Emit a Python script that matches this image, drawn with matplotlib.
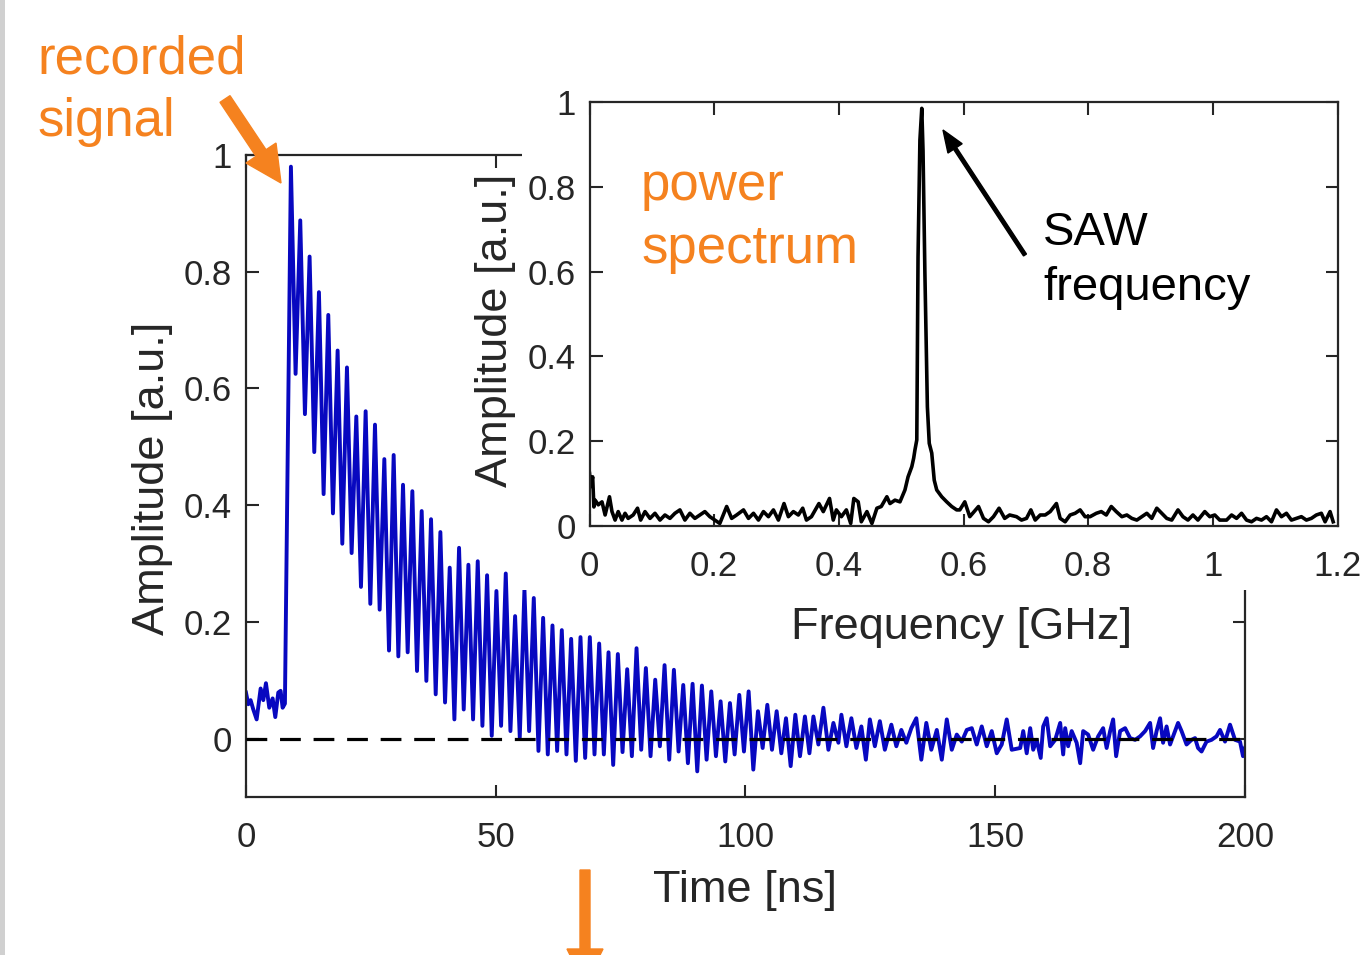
import matplotlib.pyplot as plt
import numpy as np
from matplotlib.patches import FancyArrow, Rectangle

plt.rcParams['font.family'] = ['Liberation Sans', 'DejaVu Sans']

# ---- recorded signal (time in ns, amplitude in a.u.) ----
# noise before the SAW arrives
t_pre = [0.0, 0.47, 0.93, 1.47, 2.14, 2.94, 3.47, 4.0, 4.67, 5.34, 5.87, 6.47, 6.94, 7.34, 7.8]
y_pre = [0.079, 0.059, 0.066, 0.050, 0.033, 0.086, 0.066, 0.095, 0.053, 0.069, 0.037, 0.079,
         0.082, 0.053, 0.060]

# oscillating part: maxima and the minimum that follows each one
t_first_peak = 9.0
period = 1.87
peak_vals = [0.980, 0.888, 0.826, 0.765, 0.726, 0.665, 0.636, 0.552, 0.561, 0.538,
             0.479, 0.486, 0.435, 0.424, 0.390, 0.376, 0.354, 0.293, 0.327, 0.298,
             0.304, 0.280, 0.253, 0.283, 0.210, 0.256, 0.241, 0.207, 0.194, 0.186,
             0.171, 0.174, 0.174, 0.163, 0.148, 0.145, 0.119, 0.155, 0.121, 0.101,
             0.126, 0.118, 0.092, 0.094, 0.091, 0.081, 0.064, 0.061, 0.075, 0.081,
             0.047, 0.058, 0.047, 0.035, 0.041]
trough_vals = [0.625, 0.556, 0.491, 0.419, 0.386, 0.334, 0.318, 0.260, 0.231, 0.221,
               0.151, 0.141, 0.148, 0.116, 0.099, 0.076, 0.062, 0.033, 0.050, 0.033,
               0.022, 0.005, 0.022, 0.013, 0.002, 0.013, -0.021, -0.027, -0.021, -0.027,
               -0.038, -0.033, -0.027, -0.027, -0.045, -0.023, -0.030, -0.019, -0.030, -0.013,
               -0.036, -0.022, -0.042, -0.056, -0.036, -0.030, -0.039, -0.027, -0.022, -0.053,
               -0.016, -0.019, -0.025, -0.047, -0.030]

# noisy tail
t_noise = [111.9, 112.8, 113.6, 114.6, 115.6, 116.6, 117.6, 118.6, 119.2, 120.2,
           121.2, 122.2, 123.2, 124.1, 124.9, 125.9, 126.9, 127.9, 129.2, 130.2,
           131.2, 132.2, 133.2, 134.2, 135.2, 136.2, 137.2, 138.3, 139.3, 140.3,
           141.3, 142.3, 143.3, 144.3, 145.3, 146.3, 147.3, 148.3, 149.3, 150.3,
           151.3, 152.3, 153.3, 155.0, 155.6, 156.3, 157.0, 157.6, 158.3, 159.1,
           159.6, 160.3, 161.0, 162.0, 163.0, 163.6, 164.0, 164.6, 165.3, 166.3,
           167.0, 167.6, 168.6, 169.6, 170.6, 171.6, 172.3, 173.0, 173.6, 174.2,
           175.0, 176.0, 177.0, 178.0, 179.0, 180.0, 181.0, 181.6, 182.3, 183.0,
           183.6, 184.3, 185.0, 185.6, 186.6, 187.3, 188.3, 189.3, 190.0, 190.6,
           191.3, 192.3, 193.3, 194.3, 195.0, 196.0, 197.0, 198.0, 199.0, 199.6, 200.0]
y_noise = [0.038, -0.025, 0.038, -0.010, 0.053, -0.019, 0.027, -0.007, 0.041, -0.013,
           0.035, -0.016, 0.021, -0.036, 0.033, -0.013, 0.030, -0.019, 0.024, -0.013,
           0.015, -0.007, 0.018, 0.035, -0.036, 0.027, -0.019, 0.015, -0.036, 0.033,
           -0.019, 0.007, -0.005, 0.015, 0.018, -0.010, 0.021, -0.013, 0.013, -0.025,
           -0.010, 0.033, -0.019, -0.016, 0.013, -0.025, 0.018, -0.019, -0.002, -0.033,
           0.021, 0.035, -0.013, -0.002, 0.027, -0.027, 0.018, -0.013, 0.013, -0.007,
           -0.042, 0.013, 0.007, -0.019, 0.004, 0.018, -0.016, 0.013, 0.033, -0.030,
           0.013, 0.018, 0.001, -0.002, 0.004, 0.013, 0.027, -0.016, 0.013, 0.035,
           -0.007, 0.021, -0.010, 0.004, 0.027, 0.013, -0.010, -0.002, 0.001, -0.016,
           -0.022, -0.005, -0.002, 0.004, 0.015, -0.005, 0.024, -0.002, -0.005, -0.030, -0.016]

# ---- power spectrum (GHz, a.u.) ----
freq = [0.000, 0.002, 0.005, 0.007, 0.009, 0.014, 0.020, 0.025, 0.032, 0.036,
        0.041, 0.046, 0.052, 0.057, 0.062, 0.070, 0.077, 0.082, 0.089, 0.097,
        0.105, 0.113, 0.121, 0.129, 0.137, 0.145, 0.153, 0.161, 0.169, 0.177,
        0.185, 0.193, 0.201, 0.209, 0.220, 0.228, 0.236, 0.247, 0.255, 0.263,
        0.271, 0.279, 0.287, 0.295, 0.303, 0.312, 0.319, 0.327, 0.335, 0.342,
        0.348, 0.356, 0.368, 0.375, 0.385, 0.391, 0.396, 0.404, 0.412, 0.419,
        0.424, 0.431, 0.436, 0.445, 0.453, 0.461, 0.468, 0.477, 0.482, 0.490,
        0.498, 0.506, 0.511, 0.517, 0.520, 0.522, 0.525, 0.527, 0.530, 0.533,
        0.535, 0.538, 0.542, 0.545, 0.549, 0.553, 0.557, 0.565, 0.573, 0.581,
        0.589, 0.594, 0.602, 0.610, 0.624, 0.632, 0.640, 0.648, 0.657, 0.666,
        0.674, 0.685, 0.693, 0.701, 0.708, 0.715, 0.723, 0.731, 0.739, 0.749,
        0.755, 0.763, 0.771, 0.779, 0.787, 0.795, 0.803, 0.813, 0.821, 0.829,
        0.837, 0.845, 0.854, 0.862, 0.870, 0.878, 0.886, 0.894, 0.902, 0.910,
        0.918, 0.926, 0.934, 0.944, 0.952, 0.960, 0.968, 0.976, 0.987, 0.995,
        1.003, 1.011, 1.022, 1.030, 1.038, 1.046, 1.054, 1.062, 1.070, 1.078,
        1.086, 1.094, 1.102, 1.110, 1.118, 1.126, 1.134, 1.142, 1.150, 1.158,
        1.166, 1.174, 1.180, 1.188, 1.193]
power = [0.124, 0.093, 0.116, 0.045, 0.061, 0.050, 0.057, 0.026, 0.069, 0.034,
         0.014, 0.034, 0.014, 0.030, 0.018, 0.026, 0.042, 0.014, 0.034, 0.018,
         0.030, 0.014, 0.026, 0.018, 0.030, 0.038, 0.014, 0.030, 0.018, 0.026,
         0.034, 0.022, 0.014, 0.006, 0.046, 0.018, 0.026, 0.038, 0.018, 0.030,
         0.014, 0.034, 0.022, 0.038, 0.014, 0.053, 0.022, 0.034, 0.026, 0.042,
         0.014, 0.022, 0.053, 0.034, 0.065, 0.014, 0.038, 0.022, 0.038, 0.006,
         0.065, 0.057, 0.010, 0.034, 0.006, 0.042, 0.046, 0.069, 0.053, 0.061,
         0.057, 0.085, 0.116, 0.140, 0.160, 0.179, 0.203, 0.634, 0.910, 0.985,
         0.885, 0.597, 0.281, 0.195, 0.172, 0.108, 0.085, 0.069, 0.057, 0.046,
         0.038, 0.038, 0.057, 0.022, 0.046, 0.018, 0.010, 0.022, 0.042, 0.018,
         0.026, 0.022, 0.014, 0.018, 0.038, 0.014, 0.026, 0.026, 0.034, 0.053,
         0.018, 0.010, 0.026, 0.030, 0.038, 0.022, 0.022, 0.030, 0.034, 0.026,
         0.046, 0.034, 0.022, 0.026, 0.018, 0.014, 0.022, 0.030, 0.018, 0.042,
         0.030, 0.018, 0.014, 0.038, 0.022, 0.014, 0.026, 0.014, 0.034, 0.022,
         0.026, 0.014, 0.014, 0.026, 0.018, 0.030, 0.014, 0.010, 0.018, 0.014,
         0.022, 0.010, 0.038, 0.022, 0.030, 0.014, 0.018, 0.022, 0.014, 0.018,
         0.026, 0.030, 0.010, 0.034, 0.010]

orange = '#f5821f'
blue = '#0808c0'
dark = '#262626'

# build the signal from the read extrema
t_peaks = t_first_peak + period * np.arange(len(peak_vals))
t_osc = np.column_stack([t_peaks, t_peaks + period / 2]).ravel()
y_osc = np.column_stack([peak_vals, trough_vals]).ravel()
t_sig = np.concatenate([t_pre, t_osc, t_noise])
y_sig = np.concatenate([y_pre, y_osc, y_noise])

fig = plt.figure(figsize=(13.71, 9.55), dpi=100)

# main plot
ax = fig.add_axes([0.1794, 0.1654, 0.7287, 0.6723])
ax.plot(t_sig, y_sig, color=blue, lw=2.8, zorder=2, solid_joinstyle='round')
ax.axhline(0, color='black', lw=2.3, dashes=(6.5, 4), zorder=3)
ax.set_xlim(0, 200)
ax.set_ylim(-0.1, 1)
ax.set_xticks([0, 50, 100, 150, 200])
ax.set_yticks([0, 0.2, 0.4, 0.6, 0.8, 1])
ax.set_yticklabels(['0', '0.2', '0.4', '0.6', '0.8', '1'])
ax.tick_params(direction='in', top=True, right=True, length=9, width=1.5,
               labelsize=25, colors=dark)
ax.tick_params(axis='x', pad=17)
ax.tick_params(axis='y', pad=10)
for s in ax.spines.values():
    s.set_linewidth(1.6)
    s.set_color(dark)
ax.set_xlabel('Time [ns]', fontsize=32.5, color=dark)
ax.set_ylabel('Amplitude [a.u.]', fontsize=32.5, color=dark)
ax.xaxis.set_label_coords(0.5, -0.114)
ax.yaxis.set_label_coords(-0.073, 0.497)

# white backdrop behind the inset
fig.add_artist(Rectangle((0.3807, 0.3822), 0.6193, 0.5257, transform=fig.transFigure,
                         facecolor='white', edgecolor='none', zorder=0.5))

# inset: power spectrum
ins = fig.add_axes([0.430, 0.4492, 0.5456, 0.444], zorder=1)
ins.plot(freq, power, color='black', lw=2.6, solid_joinstyle='round')
ins.set_xlim(0, 1.2)
ins.set_ylim(0, 1)
ins.set_xticks([0, 0.2, 0.4, 0.6, 0.8, 1, 1.2])
ins.set_xticklabels(['0', '0.2', '0.4', '0.6', '0.8', '1', '1.2'])
ins.set_yticks([0, 0.2, 0.4, 0.6, 0.8, 1])
ins.set_yticklabels(['0', '0.2', '0.4', '0.6', '0.8', '1'])
ins.tick_params(direction='in', top=True, right=True, length=9, width=1.5,
                labelsize=25, colors=dark)
ins.tick_params(axis='x', pad=17)
ins.tick_params(axis='y', pad=10)
for s in ins.spines.values():
    s.set_linewidth(1.6)
    s.set_color(dark)
ins.set_xlabel('Frequency [GHz]', fontsize=32.5, color=dark)
ins.set_ylabel('Amplitude [a.u.]', fontsize=32.5, color=dark)
ins.xaxis.set_label_coords(0.498, -0.19)
ins.yaxis.set_label_coords(-0.098, 0.462)

# annotations (positions in inches from bottom-left)
inch = fig.dpi_scale_trans
fig.text(0.37, 9.55 - 0.73, 'recorded', transform=inch, fontsize=38, color=orange)
fig.text(0.37, 9.55 - 1.36, 'signal', transform=inch, fontsize=38, color=orange)
fig.text(6.41, 9.55 - 2.00, 'power', transform=inch, fontsize=38, color=orange, zorder=3)
fig.text(6.41, 9.55 - 2.63, 'spectrum', transform=inch, fontsize=38, color=orange, zorder=3)
fig.text(10.43, 9.55 - 2.45, 'SAW', transform=inch, fontsize=34, color='black', zorder=3)
fig.text(10.43, 9.55 - 3.00, 'frequency', transform=inch, fontsize=34, color='black', zorder=3)

fig.add_artist(FancyArrow(2.25, 8.56, 0.56, -0.84, width=0.12, head_width=0.36,
                          head_length=0.36, length_includes_head=True, transform=inch,
                          color=orange, zorder=3))
fig.add_artist(FancyArrow(5.85, 0.85, 0, -1.15, width=0.1, head_width=0.36,
                          head_length=0.36, length_includes_head=True, transform=inch,
                          color=orange, zorder=3))
fig.add_artist(FancyArrow(10.25, 7.00, -0.82, 1.25, width=0.035, head_width=0.17,
                          head_length=0.22, length_includes_head=True, transform=inch,
                          color='black', zorder=3))

# grey edge on the left of the slide
fig.add_artist(Rectangle((0, 0), 0.05, 9.55, transform=inch, facecolor='#d0d0d0',
                         edgecolor='none', zorder=3))

fig.savefig('out.png', dpi=100)
